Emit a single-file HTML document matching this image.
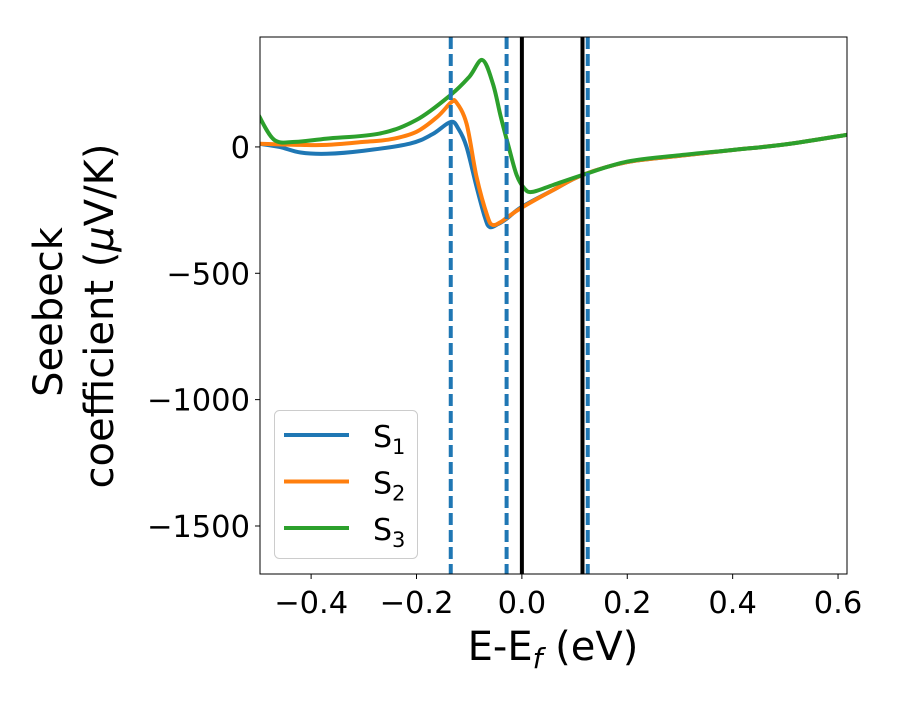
<!DOCTYPE html>
<html><head><meta charset="utf-8"><style>
body{margin:0;background:#fff}
svg{font-family:"DejaVu Sans","Liberation Sans",sans-serif}
</style></head><body>
<svg id="chart" width="900" height="700" xmlns="http://www.w3.org/2000/svg">
<g id="plot"></g>
</svg>
<script>
const xTicks=[-0.4,-0.2,0.0,0.2,0.4,0.6];
const xTickLabels=["\u22120.4","\u22120.2","0.0","0.2","0.4","0.6"];
const yTicks=[0,-500,-1000,-1500];
const yTickLabels=["0","\u2212500","\u22121000","\u22121500"];
const s1x=[-0.5,-0.46,-0.42,-0.37,-0.3,-0.213,-0.17,-0.135,-0.12,-0.105,-0.086,-0.07,-0.061,-0.045,-0.029,0.0,0.06,0.115,0.2,0.3,0.4,0.5,0.617];
const s1y=[13,0,-22,-27,-15,13,50,99,70,0,-158,-280,-317,-305,-284,-237,-170,-111,-60,-35,-12,10,48];
const s2x=[-0.5,-0.46,-0.42,-0.37,-0.3,-0.25,-0.2,-0.16,-0.135,-0.125,-0.105,-0.086,-0.065,-0.055,-0.04,-0.029,0.0,0.06,0.115,0.2,0.3,0.4,0.5,0.617];
const s2y=[13,10,8,8,20,30,60,120,175,178,92,-119,-277,-309,-297,-281,-240,-170,-111,-60,-35,-12,10,48];
const s3x=[-0.5,-0.47,-0.43,-0.37,-0.27,-0.2,-0.135,-0.1,-0.075,-0.055,-0.04,-0.025,-0.01,0.005,0.02,0.06,0.115,0.2,0.3,0.4,0.5,0.617];
const s3y=[127,28,20,33,53,107,206,277,344,250,119,0,-111,-165,-178,-150,-111,-58,-33,-12,10,48];
const series=[{n:"S",sub:"1",x:s1x,y:s1y,c:"#1f77b4"},{n:"S",sub:"2",x:s2x,y:s2y,c:"#ff7f0e"},{n:"S",sub:"3",x:s3x,y:s3y,c:"#2ca02c"}];
const dashedLines=[-0.135,-0.029,0.125];
const solidLines=[0.0,0.115];
const L=260,R=847,T=37,B=574,xmin=-0.497,xmax=0.617,ymin=-1690,ymax=435;
const X=v=>L+(v-xmin)/(xmax-xmin)*(R-L);
const Y=v=>T+(ymax-v)/(ymax-ymin)*(B-T);
const NS="http://www.w3.org/2000/svg";
const g=document.getElementById('plot');
function mk(t,a,p){const e=document.createElementNS(NS,t);for(const k in a)e.setAttribute(k,a[k]);(p||g).appendChild(e);return e;}
const clip=mk('clipPath',{id:'cp'});mk('rect',{x:L,y:T,width:R-L,height:B-T},clip);
function path(xs,ys){const p=xs.map((v,i)=>[X(v),Y(ys[i])]);let d="M"+p[0][0]+","+p[0][1];
for(let i=0;i<p.length-1;i++){const p0=p[Math.max(0,i-1)],p1=p[i],p2=p[i+1],p3=p[Math.min(p.length-1,i+2)];
const c1=[p1[0]+(p2[0]-p0[0])/6,p1[1]+(p2[1]-p0[1])/6],c2=[p2[0]-(p3[0]-p1[0])/6,p2[1]-(p3[1]-p1[1])/6];
d+=" C"+c1+" "+c2+" "+p2;}return d;}
const cg=mk('g',{'clip-path':'url(#cp)'});
series.forEach((s,i)=>{const e=mk('path',{d:path(s.x,s.y),fill:'none',stroke:s.c,'stroke-width':4,'stroke-linejoin':'round'},cg);

});
dashedLines.forEach((v,i)=>{const e=mk('line',{x1:X(v),x2:X(v),y1:T,y2:B,stroke:'#1f77b4','stroke-width':4,'stroke-dasharray':'12,5'},cg);

});
solidLines.forEach((v,i)=>{const e=mk('line',{x1:X(v),x2:X(v),y1:T,y2:B,stroke:'#000','stroke-width':4},cg);

});
const fr=mk('rect',{x:L,y:T,width:R-L,height:B-T,fill:'none',stroke:'#000','stroke-width':1});


xTicks.forEach((v,i)=>{mk('line',{x1:X(v),x2:X(v),y1:B,y2:B+5,stroke:'#000'});
const t=mk('text',{x:X(v),y:B+39,'text-anchor':'middle','font-size':30.5});t.textContent=xTickLabels[i];

});
yTicks.forEach((v,i)=>{mk('line',{x1:L-5,x2:L,y1:Y(v),y2:Y(v),stroke:'#000'});
const t=mk('text',{x:L-10,y:Y(v)+11,'text-anchor':'end','font-size':30.5});t.textContent=yTickLabels[i];

});
const xl=mk('text',{x:553,y:660,'text-anchor':'middle','font-size':40});xl.innerHTML='E-E<tspan font-size="28" font-style="italic" dy="8">f</tspan><tspan dy="-8"> (eV)</tspan>';


const yl=mk('text',{transform:'translate(62,312) rotate(-90)','text-anchor':'middle','font-size':40});yl.textContent='Seebeck';


const yl2=mk('text',{transform:'translate(113,316) rotate(-90)','text-anchor':'middle','font-size':40});yl2.innerHTML='coefficient  (<tspan font-style="italic">μ</tspan>V/K)';


const lg=mk('g',{});


mk('rect',{x:274.5,y:410.5,width:143,height:148,rx:5,fill:'#fff','fill-opacity':0.8,stroke:'#ccc'},lg);
series.forEach((s,i)=>{const yy=435+i*46.5;
mk('line',{x1:284,x2:349,y1:yy,y2:yy,stroke:s.c,'stroke-width':4},lg);
const t=mk('text',{x:373,y:yy+12,'font-size':30},lg);t.innerHTML=s.n+'<tspan font-size="21" dy="7">'+s.sub+'</tspan>';

});
</script>
</body></html>
